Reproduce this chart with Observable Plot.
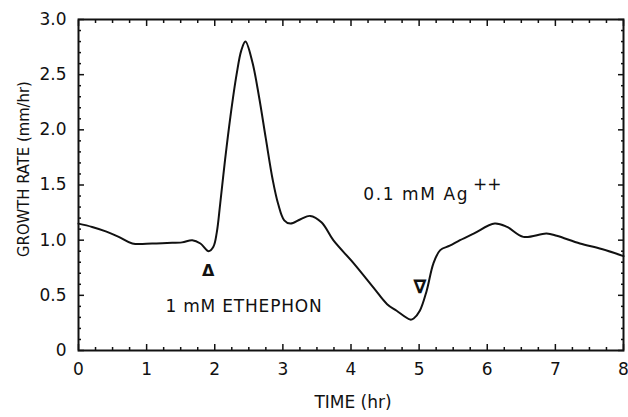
<!DOCTYPE html>
<html>
<head>
<meta charset="utf-8">
<script src="https://cdn.jsdelivr.net/npm/d3@7"></script>
<script src="https://cdn.jsdelivr.net/npm/@observablehq/plot@0.6"></script>
<style>
  html, body { margin: 0; padding: 0; background: #fff; }
  #chart { width: 628px; height: 417px; }
</style>
</head>
<body>
<div id="chart"></div>
<script>
// Growth rate curve (time in hr, growth rate in mm/hr)
const time = [0, 0.2, 0.4, 0.59, 0.79, 1.08, 1.3, 1.52, 1.67, 1.79, 1.91, 1.98, 2.03, 2.08, 2.15, 2.23, 2.32, 2.39, 2.45, 2.55, 2.65, 2.75, 2.85, 2.93, 3.02, 3.11, 3.26, 3.40, 3.57, 3.74, 4.04, 4.33, 4.53, 4.67, 4.87, 4.92, 5.01, 5.11, 5.21, 5.31, 5.45, 5.60, 5.80, 6.11, 6.29, 6.53, 6.87, 7.02, 7.36, 7.68, 8.0];
const rate = [1.15, 1.12, 1.08, 1.03, 0.97, 0.97, 0.975, 0.98, 1.00, 0.97, 0.90, 0.94, 1.07, 1.33, 1.72, 2.12, 2.50, 2.72, 2.80, 2.62, 2.30, 1.92, 1.55, 1.33, 1.18, 1.15, 1.19, 1.22, 1.16, 1.00, 0.79, 0.57, 0.42, 0.36, 0.28, 0.29, 0.36, 0.54, 0.79, 0.91, 0.95, 1.00, 1.06, 1.15, 1.12, 1.03, 1.06, 1.04, 0.97, 0.92, 0.855];

// Axis ticks
const xMajor = [0, 1, 2, 3, 4, 5, 6, 7, 8];
const xTickLabels = ["0", "1", "2", "3", "4", "5", "6", "7", "8"];
const xMinor = [0.25, 0.5, 0.75, 1.25, 1.5, 1.75, 2.25, 2.5, 2.75, 3.25, 3.5, 3.75, 4.25, 4.5, 4.75, 5.25, 5.5, 5.75, 6.25, 6.5, 6.75, 7.25, 7.5, 7.75];
const yMajor = [0, 0.5, 1.0, 1.5, 2.0, 2.5, 3.0];
const yTickLabels = ["0", "0.5", "1.0", "1.5", "2.0", "2.5", "3.0"];
const yMinor = [0.1, 0.2, 0.3, 0.4, 0.6, 0.7, 0.8, 0.9, 1.1, 1.2, 1.3, 1.4, 1.6, 1.7, 1.8, 1.9, 2.1, 2.2, 2.3, 2.4, 2.6, 2.7, 2.8, 2.9];

// Labels and annotations
const xLabel = "TIME (hr)";
const yLabel = "GROWTH RATE (mm/hr)";
const ethephonLabel = { t: 1.276, v: 0.40, text: "1 mM ETHEPHON" };
const silverLabel = { t: 4.18, v: 1.414, text: "0.1 mM Ag" };
const silverSup = { t: 5.79, v: 1.50, text: "++" };
const upMarker = { t: 1.905, v: 0.725, text: "Δ" };
const downMarker = { t: 5.01, v: 0.575, text: "∇" };

const data = time.map((t, i) => ({ t, v: rate[i] }));
const ink = "#111";

const chart = Plot.plot({
  width: 628,
  height: 417,
  marginLeft: 78,
  marginRight: 5,
  marginTop: 19,
  marginBottom: 67,
  x: { domain: [0, 8] },
  y: { domain: [0, 3] },
  style: { fontFamily: "DejaVu Sans", fontSize: "17px", color: ink, background: "#fff", overflow: "visible" },
  marks: [
    // tick labels
    Plot.axisX(xMajor, { anchor: "bottom", tickSize: 0, tickPadding: 12, tickFormat: (d, i) => xTickLabels[i], label: null, fontSize: 17 }),
    Plot.axisY(yMajor, { anchor: "left", tickSize: 0, tickPadding: 12, tickFormat: (d, i) => yTickLabels[i], label: null, fontSize: 17 }),
    // inward ticks on all four sides
    Plot.axisX(xMajor, { anchor: "bottom", tickSize: -6, fill: "none", label: null, strokeWidth: 1.5 }),
    Plot.axisX(xMinor, { anchor: "bottom", tickSize: -3, fill: "none", label: null, strokeWidth: 1.5 }),
    Plot.axisX(xMajor, { anchor: "top", tickSize: -6, fill: "none", label: null, strokeWidth: 1.5 }),
    Plot.axisX(xMinor, { anchor: "top", tickSize: -3, fill: "none", label: null, strokeWidth: 1.5 }),
    Plot.axisY(yMajor, { anchor: "left", tickSize: -6, fill: "none", label: null, strokeWidth: 1.5 }),
    Plot.axisY(yMinor, { anchor: "left", tickSize: -3, fill: "none", label: null, strokeWidth: 1.5 }),
    Plot.axisY(yMajor, { anchor: "right", tickSize: -6, fill: "none", label: null, strokeWidth: 1.5 }),
    Plot.axisY(yMinor, { anchor: "right", tickSize: -3, fill: "none", label: null, strokeWidth: 1.5 }),
    Plot.frame({ stroke: ink, strokeWidth: 2 }),
    // axis titles
    Plot.text([xLabel], { frameAnchor: "bottom", dx: 2, dy: 57, text: d => d, textAnchor: "middle", fontSize: 17, fill: ink }),
    Plot.text([yLabel], { frameAnchor: "left", dx: -55, dy: -16, rotate: -90, text: d => d, textAnchor: "middle", fontSize: 16.5, fontFamily: "DejaVu Sans Condensed", fill: ink }),
    // curve
    Plot.line(data, { x: "t", y: "v", curve: "catmull-rom", stroke: ink, strokeWidth: 2 }),
    // annotations
    Plot.text([ethephonLabel], { x: "t", y: "v", text: "text", textAnchor: "start", fontSize: 17, fill: ink }),
    Plot.text([silverLabel], { x: "t", y: "v", text: "text", textAnchor: "start", fontSize: 17, fill: ink }),
    Plot.text([silverSup], { x: "t", y: "v", text: "text", textAnchor: "start", fontSize: 17, fill: ink }),
    Plot.text([upMarker], { x: "t", y: "v", text: "text", fontSize: 16, fontWeight: "bold", fill: ink }),
    Plot.text([downMarker], { x: "t", y: "v", text: "text", fontSize: 19, fontWeight: "bold", fill: ink })
  ]
});

// widen the letter spacing of the two annotations, as in the original typeface
const spacing = new Map([[ethephonLabel.text, "0.8px"], [silverLabel.text, "1.6px"]]);
d3.select(chart).selectAll("text").each(function () {
  const s = spacing.get(this.textContent);
  if (s) this.style.letterSpacing = s;
});

document.getElementById("chart").appendChild(chart);
</script>
</body>
</html>
